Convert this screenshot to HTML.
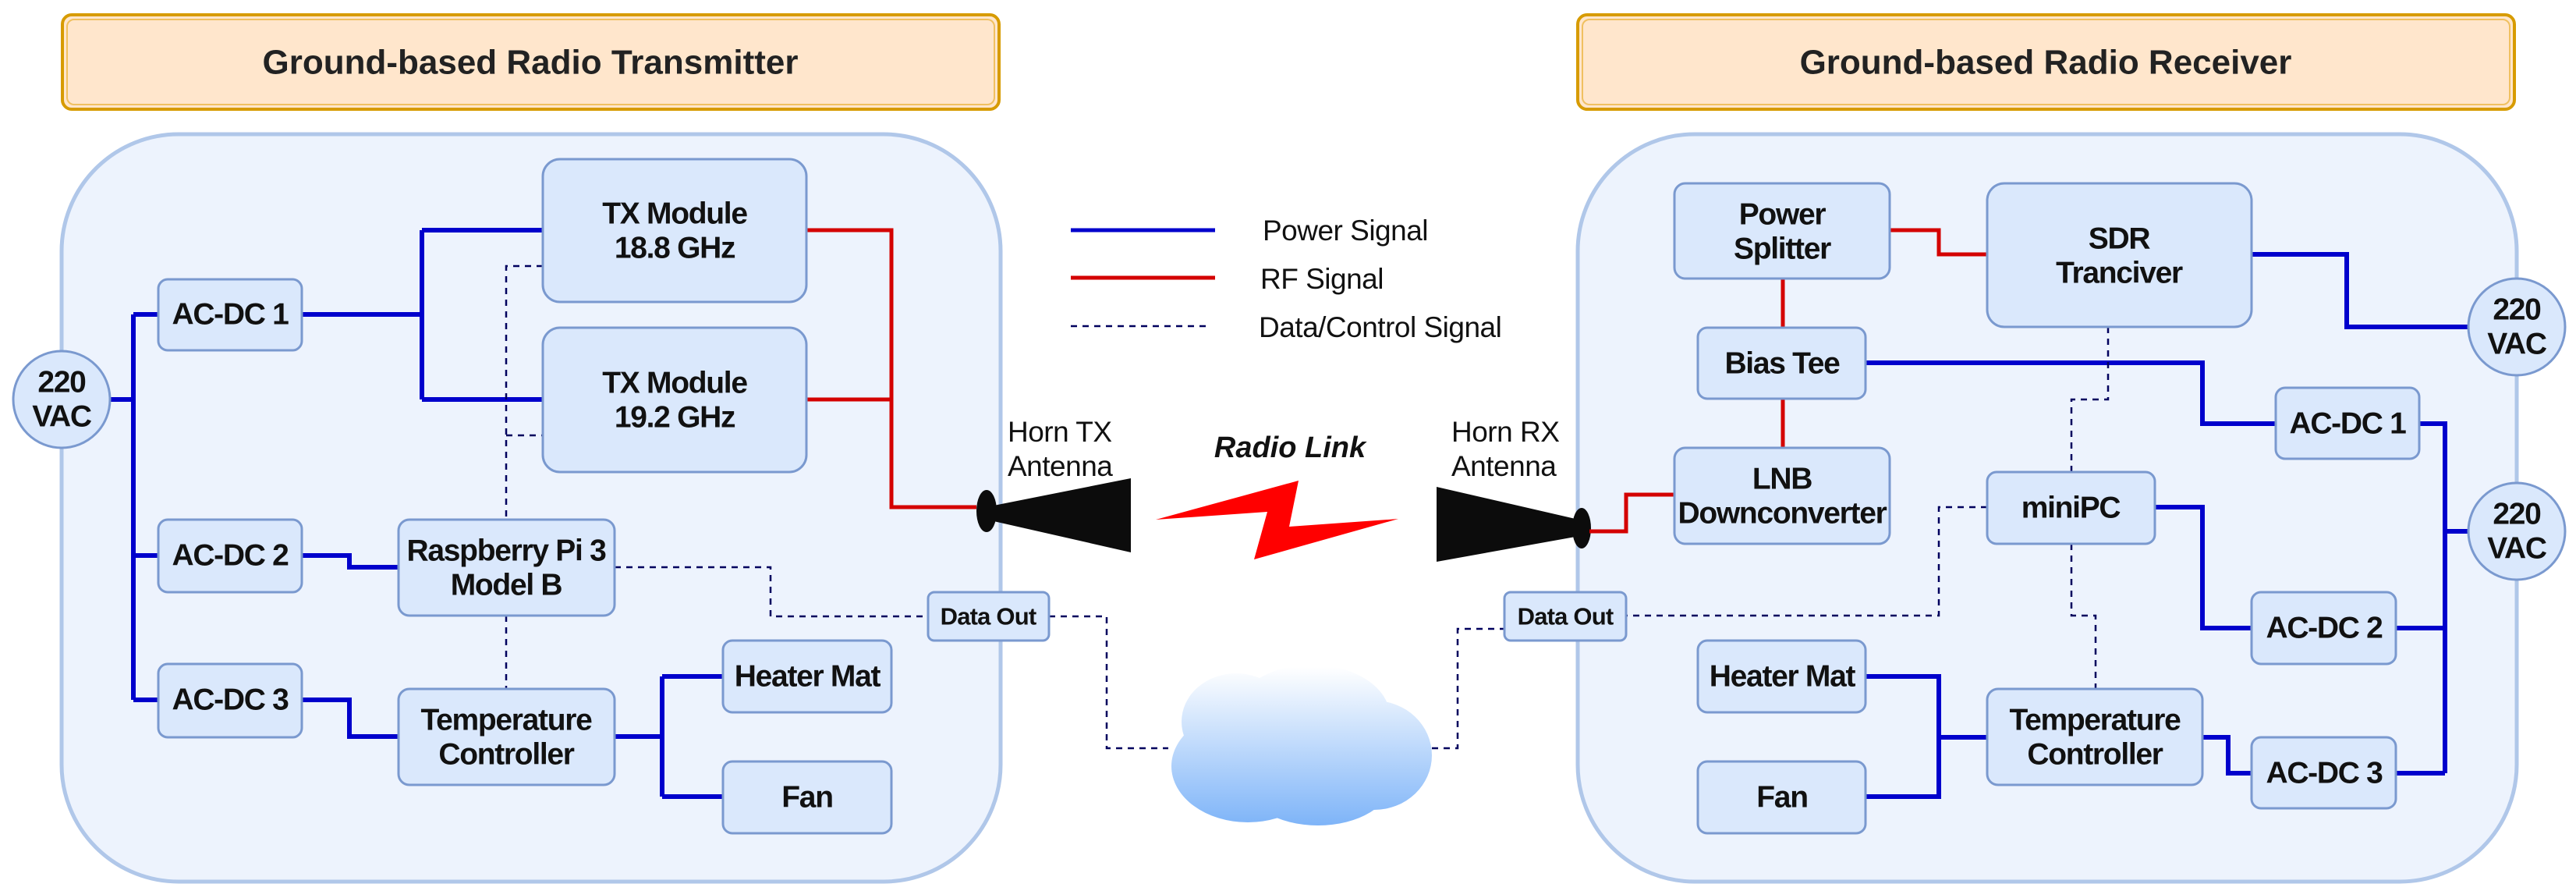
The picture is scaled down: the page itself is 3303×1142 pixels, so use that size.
<!DOCTYPE html>
<html><head><meta charset="utf-8"><style>
html,body{margin:0;padding:0;background:#fff;}
svg{display:block;}
.t{font-family:"Liberation Sans",sans-serif;font-weight:bold;font-size:39px;fill:#111;text-anchor:middle;dominant-baseline:central;letter-spacing:-1.3px;}
.n{font-family:"Liberation Sans",sans-serif;font-size:37px;fill:#111;letter-spacing:-0.5px;}
.box{fill:#dae8fc;stroke:#7a99cf;stroke-width:3;}
.bl{fill:none;stroke:#0000cc;stroke-width:6;}
.rd{fill:none;stroke:#d40000;stroke-width:5;}
.ds{fill:none;stroke:#00005e;stroke-width:2.5;stroke-dasharray:8,7;}
</style></head><body>
<svg width="3303" height="1142" viewBox="0 0 3303 1142" xmlns="http://www.w3.org/2000/svg">
<defs>
<linearGradient id="cg" gradientUnits="userSpaceOnUse" x1="0" y1="855" x2="0" y2="1058">
<stop offset="0" stop-color="#ffffff"/><stop offset="1" stop-color="#7eb4f8"/></linearGradient>
</defs>
<rect x="80" y="19" width="1201" height="121" rx="12" fill="#ffe6cc" stroke="#d79b00" stroke-width="4"/>
<rect x="86" y="25" width="1189" height="109" rx="9" fill="none" stroke="#f0c060" stroke-width="2"/>
<text class="t" x="680" y="80" style="font-size:44px;fill:#222;letter-spacing:0">Ground-based Radio Transmitter</text>
<rect x="2023" y="19" width="1201" height="121" rx="12" fill="#ffe6cc" stroke="#d79b00" stroke-width="4"/>
<rect x="2029" y="25" width="1189" height="109" rx="9" fill="none" stroke="#f0c060" stroke-width="2"/>
<text class="t" x="2623" y="80" style="font-size:44px;fill:#222;letter-spacing:0">Ground-based Radio Receiver</text>
<rect x="79" y="172" width="1204" height="958" rx="150" fill="#edf3fd" stroke="#b0c7e9" stroke-width="5"/>
<rect x="2023" y="172" width="1204" height="958" rx="150" fill="#edf3fd" stroke="#b0c7e9" stroke-width="5"/>

<path class="bl" d="M140 512H171M171 403V897M171 403H203M171 712H203M171 897H203"/>
<path class="bl" d="M387 403H541M541 295V512M541 295H696M541 512H696"/>
<path class="bl" d="M387 712H448V727H511M387 897H448V944H511"/>
<path class="bl" d="M788 944H849M849 867V1021M849 867H927M849 1021H927"/>
<path class="rd" d="M1034 295H1143V650H1252M1034 512H1143"/>
<path class="ds" d="M696 341H649V666M649 558H696M649 789V883M788 727H988V790H1190"/>
<path class="ds" d="M1345 790H1419V959H1498"/>
<path class="ds" d="M1836 959H1869V806H1929"/>

<circle cx="79" cy="512" r="62" fill="#dae8fc" stroke="#7a99cf" stroke-width="3"/>
<text class="t" x="79" y="490">220</text><text class="t" x="79" y="534">VAC</text>
<rect class="box" x="203" y="358" width="184" height="91" rx="12"/><text class="t" x="295" y="403">AC-DC 1</text>
<rect class="box" x="203" y="666" width="184" height="93" rx="12"/><text class="t" x="295" y="712">AC-DC 2</text>
<rect class="box" x="203" y="851" width="184" height="94" rx="12"/><text class="t" x="295" y="897">AC-DC 3</text>
<rect class="box" x="696" y="204" width="338" height="183" rx="22"/><text class="t" x="865" y="274">TX Module</text><text class="t" x="865" y="318">18.8 GHz</text>
<rect class="box" x="696" y="420" width="338" height="185" rx="22"/><text class="t" x="865" y="491">TX Module</text><text class="t" x="865" y="535">19.2 GHz</text>
<rect class="box" x="511" y="666" width="277" height="123" rx="14"/><text class="t" x="649" y="706">Raspberry Pi 3</text><text class="t" x="649" y="750">Model B</text>
<rect class="box" x="511" y="883" width="277" height="123" rx="14"/><text class="t" x="649" y="923">Temperature</text><text class="t" x="649" y="967">Controller</text>
<rect class="box" x="927" y="821" width="216" height="92" rx="12"/><text class="t" x="1035" y="867">Heater Mat</text>
<rect class="box" x="927" y="976" width="216" height="92" rx="12"/><text class="t" x="1035" y="1022">Fan</text>
<rect class="box" x="1190" y="759" width="155" height="62" rx="8"/><text class="t" x="1267" y="790" style="font-size:31px;letter-spacing:-0.8px">Data Out</text>

<line x1="1373" y1="295" x2="1558" y2="295" stroke="#0000cc" stroke-width="5"/>
<line x1="1373" y1="356" x2="1558" y2="356" stroke="#d40000" stroke-width="5"/>
<line x1="1373" y1="418" x2="1550" y2="418" stroke="#00005e" stroke-width="2.5" stroke-dasharray="8,7"/>
<text class="n" x="1619" y="308">Power Signal</text>
<text class="n" x="1616" y="370">RF Signal</text>
<text class="n" x="1614" y="432">Data/Control Signal</text>

<text class="n" x="1292" y="566">Horn TX</text><text class="n" x="1292" y="610">Antenna</text>
<text class="n" x="1861" y="566">Horn RX</text><text class="n" x="1861" y="610">Antenna</text>
<text x="1654" y="586" style="font-family:'Liberation Sans',sans-serif;font-weight:bold;font-style:italic;font-size:38px;text-anchor:middle;fill:#111">Radio Link</text>
<polygon points="1274,648 1450,613 1450,708 1274,668" fill="#0c0c0c"/>
<ellipse cx="1265" cy="655" rx="13" ry="27" fill="#0c0c0c"/>
<polygon points="2020,665 1842,624 1842,720 2020,688" fill="#0c0c0c"/>
<ellipse cx="2028" cy="677" rx="12" ry="26" fill="#0c0c0c"/>
<polygon points="1482,666 1665,616 1653,675 1793,665 1608,717 1625,656" fill="#ff0000"/>

<g fill="url(#cg)">
<ellipse cx="1600" cy="982" rx="98" ry="72"/>
<ellipse cx="1585" cy="925" rx="70" ry="62"/>
<ellipse cx="1682" cy="918" rx="100" ry="66"/>
<ellipse cx="1762" cy="968" rx="74" ry="70"/>
<ellipse cx="1690" cy="1000" rx="95" ry="58"/>
</g>

<path class="rd" d="M2423 295H2486V326H2548M2286 357V574M2147 634H2085V681H2038"/>
<path class="bl" d="M2887 326H3009V419H3165"/>
<path class="bl" d="M2392 465H2824V543H2918M3102 543H3135V991M3135 681H3165M3072 805H3135M3072 991H3135"/>
<path class="bl" d="M2763 650H2824V805H2887M2824 945H2857V991H2887"/>
<path class="bl" d="M2392 867H2486V1021H2392M2486 945H2548"/>
<path class="ds" d="M2703 419V512H2656V605M2656 697V789H2687V883M2548 650H2486V789H2085"/>

<rect class="box" x="2147" y="235" width="276" height="122" rx="14"/><text class="t" x="2285" y="275">Power</text><text class="t" x="2285" y="319">Splitter</text>
<rect class="box" x="2548" y="235" width="339" height="184" rx="22"/><text class="t" x="2717" y="306">SDR</text><text class="t" x="2717" y="350">Tranciver</text>
<rect class="box" x="2177" y="420" width="215" height="91" rx="12"/><text class="t" x="2285" y="466">Bias Tee</text>
<rect class="box" x="2147" y="574" width="276" height="123" rx="14"/><text class="t" x="2285" y="614">LNB</text><text class="t" x="2285" y="658">Downconverter</text>
<rect class="box" x="2548" y="605" width="215" height="92" rx="12"/><text class="t" x="2655" y="651">miniPC</text>
<rect class="box" x="2918" y="497" width="184" height="91" rx="12"/><text class="t" x="3010" y="543">AC-DC 1</text>
<rect class="box" x="2887" y="759" width="185" height="92" rx="12"/><text class="t" x="2980" y="805">AC-DC 2</text>
<rect class="box" x="2887" y="945" width="185" height="91" rx="12"/><text class="t" x="2980" y="991">AC-DC 3</text>
<rect class="box" x="2177" y="821" width="215" height="92" rx="12"/><text class="t" x="2285" y="867">Heater Mat</text>
<rect class="box" x="2177" y="976" width="215" height="92" rx="12"/><text class="t" x="2285" y="1022">Fan</text>
<rect class="box" x="2548" y="883" width="276" height="123" rx="14"/><text class="t" x="2686" y="923">Temperature</text><text class="t" x="2686" y="967">Controller</text>
<rect class="box" x="1929" y="759" width="156" height="62" rx="8"/><text class="t" x="2007" y="790" style="font-size:31px;letter-spacing:-0.8px">Data Out</text>
<circle cx="3227" cy="419" r="62" fill="#dae8fc" stroke="#7a99cf" stroke-width="3"/>
<text class="t" x="3227" y="397">220</text><text class="t" x="3227" y="441">VAC</text>
<circle cx="3227" cy="681" r="62" fill="#dae8fc" stroke="#7a99cf" stroke-width="3"/>
<text class="t" x="3227" y="659">220</text><text class="t" x="3227" y="703">VAC</text>
</svg>
</body></html>
